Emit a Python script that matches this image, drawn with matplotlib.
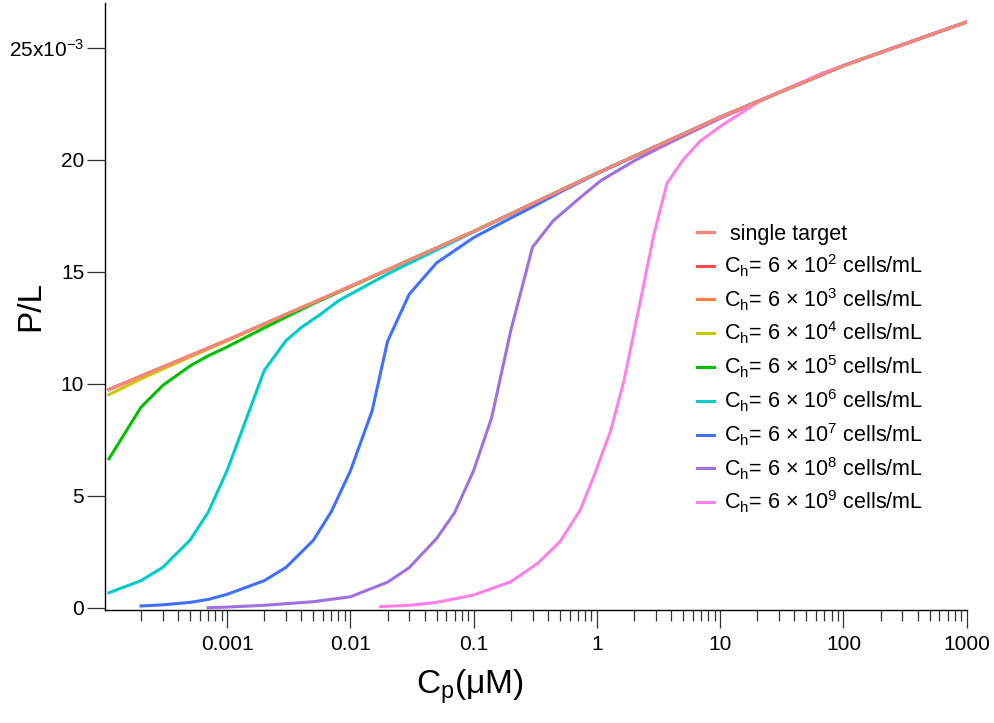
import numpy as np
import matplotlib
matplotlib.use("Agg")
import matplotlib.pyplot as plt
from matplotlib.ticker import FixedLocator, LogLocator, FuncFormatter, NullFormatter

plt.rcParams['font.family'] = ['Liberation Sans', 'DejaVu Sans']
plt.rcParams['mathtext.fontset'] = 'custom'
plt.rcParams['mathtext.rm'] = 'Liberation Sans'
plt.rcParams['mathtext.it'] = 'Liberation Sans:italic'

# P/L in units of 1e-3
cp_single = [1.1e-4, 3e-4, 1e-3, 3e-3, 1e-2, 3e-2, 0.1, 0.3, 1, 3, 10, 30, 100, 300, 1000]
pl_single = [9.75, 10.75, 11.95, 13.10, 14.35, 15.52, 16.8, 18.04, 19.4, 20.59,
             21.9, 23.0, 24.2, 25.13, 26.15]

# 6e2 and 6e3 lie on the single-target curve
cp_e2, pl_e2 = cp_single, pl_single
cp_e3, pl_e3 = cp_single, pl_single

cp_e4 = [1.1e-4, 2e-4, 3e-4, 5e-4, 1e-3, 3e-3]
pl_e4 = [9.52, 10.22, 10.66, 11.2, 11.92, 13.1]

cp_e5 = [1.1e-4, 2e-4, 3e-4, 5e-4, 7e-4, 1e-3, 2e-3, 3e-3, 5e-3, 1e-2]
pl_e5 = [6.66, 8.96, 9.93, 10.8, 11.25, 11.65, 12.5, 12.98, 13.58, 14.33]

cp_e6 = [1.1e-4, 2e-4, 3e-4, 5e-4, 7e-4, 1e-3, 2e-3, 3e-3, 4e-3, 5.7e-3, 8e-3,
         1e-2, 2e-2, 5e-2, 0.1]
pl_e6 = [0.68, 1.22, 1.81, 3.03, 4.26, 6.14, 10.6, 11.93, 12.52, 13.1, 13.71,
         14.0, 14.9, 15.98, 16.78]

cp_e7 = [2e-4, 3e-4, 5e-4, 7e-4, 1e-3, 2e-3, 3e-3, 5e-3, 7e-3, 1e-2, 1.5e-2, 2e-2,
         3e-2, 5e-2, 0.1, 0.2, 0.3, 0.5, 1]
pl_e7 = [0.09, 0.14, 0.25, 0.38, 0.61, 1.22, 1.81, 3.02, 4.3, 6.12, 8.8, 11.9,
         14.0, 15.4, 16.53, 17.4, 17.9, 18.55, 19.38]

cp_e8 = [7e-4, 1e-3, 2e-3, 5e-3, 1e-2, 2e-2, 3e-2, 5e-2, 7e-2, 0.1, 0.14, 0.2,
         0.3, 0.44, 0.73, 1.07, 2, 3, 5, 10]
pl_e8 = [0.01, 0.04, 0.12, 0.28, 0.5, 1.15, 1.8, 3.1, 4.25, 6.14, 8.5, 12.38,
         16.1, 17.27, 18.31, 19.06, 19.95, 20.45, 21.05, 21.85]

cp_e9 = [0.0175, 0.03, 0.05, 0.1, 0.2, 0.33, 0.5, 0.73, 0.94, 1.29, 1.65, 2.25,
         2.9, 3.7, 5.0, 6.9, 10.6, 22, 68, 100]
pl_e9 = [0.06, 0.12, 0.25, 0.58, 1.17, 1.99, 2.95, 4.36, 5.85, 7.9, 10.1, 13.7,
         16.68, 18.95, 20.0, 20.84, 21.58, 22.69, 23.88, 24.2]

x_ticks = [0.001, 0.01, 0.1, 1, 10, 100, 1000]
y_ticks = [0, 5, 10, 15, 20, 25]
y_ticklabels = ['0', '5', '10', '15', '20', r'25x10$^{-3}$']

labels = ['6 × 10$^{%d}$' % n for n in range(2, 10)]
colors = ['#FF4A4A', '#FF8040', '#CCC800', '#00C000', '#00CCCC', '#4070FF',
          '#A070E0', '#FF80E8']
single_color = '#F4877C'


def join_main(cp, pl):
    # after the curve meets the single-target line it follows it
    cp = np.asarray(cp)
    pl = np.asarray(pl)
    main_x = np.asarray(cp_single)
    main_y = np.asarray(pl_single)
    keep = main_x > cp[-1]
    return np.concatenate([cp, main_x[keep]]), np.concatenate([pl, main_y[keep]])


series = [(cp_e2, pl_e2), (cp_e3, pl_e3), (cp_e4, pl_e4), (cp_e5, pl_e5),
          (cp_e6, pl_e6), (cp_e7, pl_e7), (cp_e8, pl_e8), (cp_e9, pl_e9)]

fig = plt.figure(figsize=(9.95, 7.23), dpi=100)
ax = fig.add_axes([0.1055, 0.1563, 0.8661, 0.8397])

handles = []
for (cp, pl), lab, col in zip(series, labels, colors):
    x, y = join_main(cp, pl)
    h, = ax.plot(x, y, color=col, lw=2.2, label=r'C$_{\rm h}$= ' + lab + ' cells/mL')
    handles.append(h)

hs, = ax.plot(cp_single, pl_single, color=single_color, lw=2.4, zorder=5,
              label=' single target')

ax.set_xscale('log')
ax.set_xlim(1.02e-4, 1000)
ax.set_ylim(-0.09, 27.0)

ax.xaxis.set_major_locator(FixedLocator(x_ticks))
ax.xaxis.set_minor_locator(LogLocator(base=10, subs=np.arange(2, 10), numticks=20))
ax.xaxis.set_major_formatter(FuncFormatter(lambda v, p: '%g' % v))
ax.xaxis.set_minor_formatter(NullFormatter())

ax.set_yticks(y_ticks)
ax.set_yticklabels(y_ticklabels)

for s in ['top', 'right']:
    ax.spines[s].set_visible(False)
for s in ['left', 'bottom']:
    ax.spines[s].set_linewidth(1.0)

ax.tick_params(axis='both', which='major', direction='out', length=13, width=0.9,
               labelsize=15, color='#333333')
ax.tick_params(axis='x', which='major', pad=5)
ax.tick_params(axis='y', which='major', pad=2)
ax.tick_params(axis='x', which='minor', direction='out', length=8, width=0.9,
               color='#333333')

ax.set_xlabel(r'C$_{\rm p}$(μM)', fontsize=24)
ax.set_ylabel('P/L', fontsize=24)
ax.xaxis.set_label_coords(0.4236, -0.094)
ax.yaxis.set_label_coords(-0.068, 0.5)

ax.legend([hs] + handles, [hs.get_label()] + [h.get_label() for h in handles],
          loc='upper left', bbox_to_anchor=(0.687, 0.636), frameon=False,
          fontsize=15.5, handlelength=0.8, handletextpad=0.45, labelspacing=0.34,
          borderpad=0, borderaxespad=0)

fig.savefig('out.png', dpi=100)
